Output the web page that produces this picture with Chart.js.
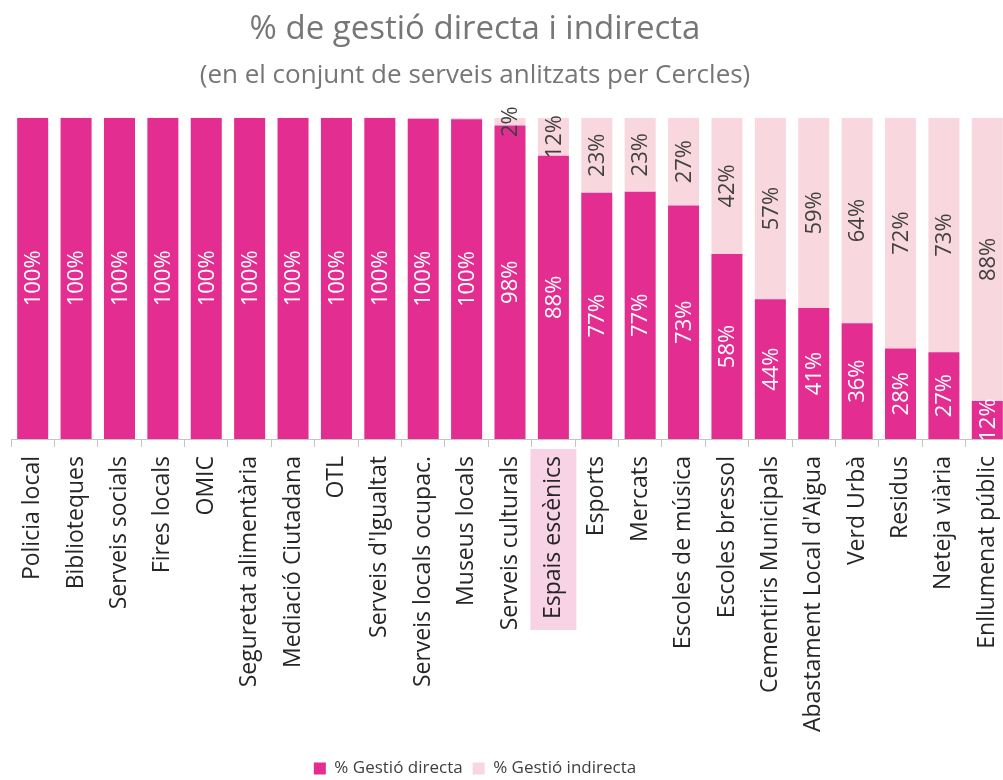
<!DOCTYPE html>
<html>
<head>
<meta charset="utf-8">
<title>% de gestió directa i indirecta</title>
<script src="https://cdn.jsdelivr.net/npm/chart.js@4.4.1/dist/chart.umd.min.js"></script>
<style>
    html, body { margin: 0; padding: 0; overflow: hidden; background: #fff; }
    #wrap { position: absolute; left: -59px; top: 0; width: 1068px; height: 780px; }
</style>
</head>
<body>
<div id="wrap"><canvas id="chart"></canvas></div>
<script>
// Services and share of direct / indirect management (%)
const categories = [
    "Policia local", "Biblioteques", "Serveis socials", "Fires locals", "OMIC",
    "Seguretat alimentària", "Mediació Ciutadana", "OTL", "Serveis d'Igualtat",
    "Serveis locals ocupac.", "Museus locals", "Serveis culturals", "Espais escènics",
    "Esports", "Mercats", "Escoles de música", "Escoles bressol", "Cementiris Municipals",
    "Abastament Local d'Aigua", "Verd Urbà", "Residus", "Neteja viària", "Enllumenat públic"
];
const directa = [100, 100, 100, 100, 100, 100, 100, 100, 100, 99.7, 99.55, 97.6, 88.2,
    76.7, 77, 72.7, 57.6, 43.5, 40.8, 36, 28.2, 27, 11.8];
const indirecta = [0, 0, 0, 0, 0, 0, 0, 0, 0, 0.3, 0.45, 2.4, 11.8,
    23.3, 23, 27.3, 42.4, 56.5, 59.2, 64, 71.8, 73, 88.2];
const seriesNames = ["% Gestió directa", "% Gestió indirecta"];
const highlighted = "Espais escènics";

const FONT = '"Open Sans", "Noto Sans", sans-serif';
const TICK_SIZE = 23;
const PINK = '#E32D91';
const LIGHT_PINK = '#F9D7DF';
const labelColors = ['#ffffff', '#404040'];

// percentage written vertically in the middle of each segment
const barLabels = {
    id: 'barLabels',
    afterDatasetsDraw(chart) {
        const ctx = chart.ctx;
        ctx.save();
        ctx.font = '22px ' + FONT;
        ctx.textAlign = 'center';
        ctx.textBaseline = 'middle';
        chart.data.datasets.forEach((ds, i) => {
            chart.getDatasetMeta(i).data.forEach((bar, j) => {
                const pct = Math.round(ds.data[j]);
                if (pct < 1) return;
                ctx.save();
                ctx.translate(bar.x, (bar.y + bar.base) / 2);
                ctx.rotate(-Math.PI / 2);
                ctx.fillStyle = labelColors[i];
                ctx.fillText(pct + '%', 0, 1);
                ctx.restore();
            });
        });
        ctx.restore();
    }
};

// shaded box behind one category label (drawn before the axes)
const labelHighlight = {
    id: 'labelHighlight',
    beforeDraw(chart) {
        const x = chart.scales.x;
        const i = categories.indexOf(highlighted);
        if (i < 0) return;
        const ctx = chart.ctx;
        ctx.save();
        ctx.font = TICK_SIZE + 'px ' + FONT;
        const w = ctx.measureText(highlighted).width;
        const start = x.top + x.options.grid.tickLength + x.options.ticks.padding;
        ctx.fillStyle = '#F8D3E6';
        ctx.fillRect(x.getPixelForValue(i) - 23, start - 7, 46, w + 18);
        ctx.restore();
    }
};

new Chart(document.getElementById('chart'), {
    type: 'bar',
    data: {
        labels: categories,
        datasets: [
            { label: seriesNames[0], data: directa, backgroundColor: PINK,
              barPercentage: 0.715, categoryPercentage: 1 },
            { label: seriesNames[1], data: indirecta, backgroundColor: LIGHT_PINK,
              barPercentage: 0.715, categoryPercentage: 1 }
        ]
    },
    options: {
        responsive: true,
        maintainAspectRatio: false,
        animation: false,
        layout: { padding: { left: 0, right: 0, top: 0, bottom: -7 } },
        plugins: {
            title: {
                display: true,
                text: '% de gestió directa i indirecta',
                color: '#767676',
                font: { family: FONT, size: 33, weight: 'normal' },
                padding: { top: 10, bottom: 4 }
            },
            subtitle: {
                display: true,
                text: '(en el conjunt de serveis anlitzats per Cercles)',
                color: '#767676',
                font: { family: FONT, size: 26, weight: 'normal' },
                padding: { top: 6, bottom: 27 }
            },
            legend: {
                position: 'bottom',
                labels: {
                    boxWidth: 12,
                    boxHeight: 12,
                    color: '#404040',
                    font: { family: FONT, size: 17 }
                }
            },
            tooltip: { enabled: false }
        },
        scales: {
            x: {
                stacked: true,
                grid: {
                    drawOnChartArea: false,
                    drawTicks: true,
                    tickLength: 8,
                    color: '#C4C4C4',
                    offset: true
                },
                border: { color: '#C4C4C4' },
                ticks: {
                    autoSkip: false,
                    minRotation: 90,
                    maxRotation: 90,
                    padding: 9,
                    color: '#262626',
                    font: { family: FONT, size: TICK_SIZE }
                },
                afterFit(scale) {
                    scale.paddingLeft = 0;
                    scale.paddingRight = 0;
                    scale.height = 311;
                }
            },
            y: {
                stacked: true,
                min: 0,
                max: 100,
                position: 'left',
                grid: { display: false },
                border: { display: false },
                ticks: { display: false },
                afterFit(scale) {
                    scale.width = 70;
                }
            }
        }
    },
    plugins: [labelHighlight, barLabels]
});
</script>
</body>
</html>
